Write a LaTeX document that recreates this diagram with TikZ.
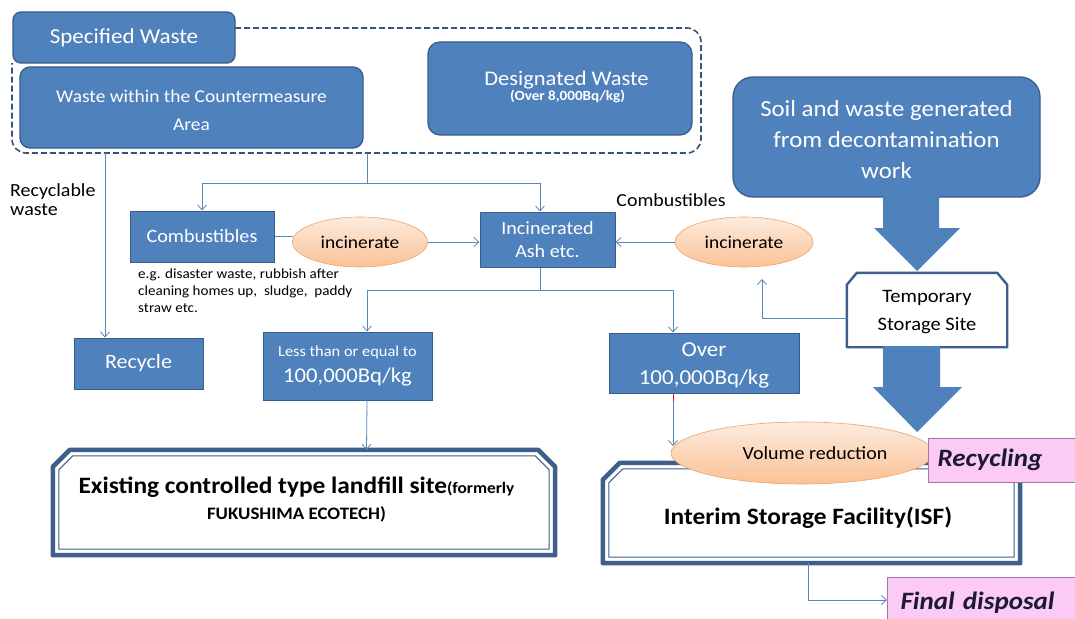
\documentclass[tikz,border=0pt]{standalone}
\usepackage{fontspec}
\setmainfont{Carlito}[FakeStretch=1.08]
\usetikzlibrary{arrows.meta,calc,shapes.geometric}

\definecolor{boxblue}{HTML}{4F81BD}
\definecolor{boxedge}{HTML}{385D8A}
\definecolor{wire}{HTML}{5B86BA}
\definecolor{dashcol}{HTML}{3A5478}
\definecolor{framecol}{HTML}{3E5F8C}
\definecolor{peachtop}{HTML}{FDEBDD}
\definecolor{peachbot}{HTML}{F9C296}
\definecolor{peachedge}{HTML}{EFA467}
\definecolor{pinkfill}{HTML}{FBCBF6}
\definecolor{pinkedge}{HTML}{A874A8}
\definecolor{inktext}{HTML}{1C1A33}

\newcommand\fsz[2]{\fontsize{#1}{#2}\selectfont}

% chamfered double frame around an (invisible) node: #1 node, #2 chamfer
\newcommand\chamframe[2]{%
  \draw[framecol, line width=4.5pt, line join=round, fill=white]
    (#1.south west) -- ($(#1.north west)+(0,#2)$) -- ($(#1.north west)+(#2,0)$)
    -- ($(#1.north east)+(-#2,0)$) -- ($(#1.north east)+(0,#2)$)
    -- (#1.south east) -- cycle;
  \draw[framecol, line width=1pt]
    ($(#1.south west)+(6,-6)$) -- ($(#1.north west)+(6,#2+3)$) -- ($(#1.north west)+(#2+3,6)$)
    -- ($(#1.north east)+(-#2-3,6)$) -- ($(#1.north east)+(-6,#2+3)$)
    -- ($(#1.south east)+(-6,-6)$) -- cycle;}

\begin{document}
\begin{tikzpicture}[x=1pt,y=-1pt,
  bluebox/.style={draw=boxedge, line width=1.3pt, fill=boxblue, text=white,
    align=center, inner sep=0pt},
  oval/.style={ellipse, draw=peachedge, line width=0.6pt, top color=peachtop,
    bottom color=peachbot, inner sep=0pt, text=black},
  pinkbox/.style={draw=pinkedge, line width=1pt, fill=pinkfill, text=inktext,
    inner sep=0pt, font=\fsz{25}{28}\bfseries\itshape},
  plain/.style={inner sep=0pt, text=black},
  wireline/.style={draw=wire, line width=0.8pt},
  arrowed/.style={wireline, -{Straight Barb[length=5pt,width=9pt,line width=0.8pt]}},
  blockarrow/.style={fill=boxblue, draw=none},
  hollow/.style={inner sep=0pt, draw=none}]

\useasboundingbox (0,0) rectangle (1075,618);
\fill[white] (0,0) rectangle (1075,618);

% ---- group of specified waste -------------------------------------------
\draw[dashcol, line width=1.6pt, dash pattern=on 6pt off 3pt, rounded corners=14pt]
  (235,28) -- (701,28) -- (701,153) -- (12,153) -- (12,63);

\node[bluebox, rounded corners=8pt, minimum width=222pt, minimum height=51pt,
  font=\fsz{21.3}{24}] (spec) at (124,37.5) {Specified Waste};
\node[bluebox, rounded corners=10pt, minimum width=343pt, minimum height=81pt] (within)
  at (191.5,107.5) {};
\node[plain, text=white, align=center, font=\fsz{18}{28}] (withinlbl) at (191.5,110)
  {Waste within the Countermeasure\\Area};
\node[bluebox, rounded corners=12pt, minimum width=264pt, minimum height=93pt] (desig)
  at (560,88.5) {};
\node[plain, text=white, anchor=base, font=\fsz{20.8}{24}] (desiglbl) at (566.5,85)
  {Designated Waste};
\node[plain, text=white, anchor=base, font=\fsz{14}{16}\bfseries] (desigsub) at (567.5,100)
  {(Over 8,000Bq/kg)};

\node[bluebox, rounded corners=20pt, minimum width=307pt, minimum height=120pt] (soil)
  at (886.5,137) {};
\node[plain, text=white, align=center, font=\fsz{23}{31}] (soillbl) at (886.5,140)
  {Soil and waste generated\\from decontamination\\work};

\coordinate (groupout) at (367,153);
\coordinate (split) at (367,183);
\coordinate (recout) at (105,153);

% ---- middle row ----------------------------------------------------------
\node[bluebox, line width=1pt, minimum width=144pt, minimum height=51pt,
  font=\fsz{18.7}{20}] (comb) at (202,236.5) {Combustibles};
\node[bluebox, line width=1pt, minimum width=135pt, minimum height=55pt,
  font=\fsz{18.6}{23}] (ash) at (547.5,239.5) {Incinerated\\Ash etc.};
\node[plain, font=\fsz{18.4}{20}] (comblbl) at (671,200) {Combustibles};
\node[plain, align=left, anchor=north west, font=\fsz{18.5}{19}] (reclbl) at (10,183)
  {Recyclable\\waste};
\node[plain, align=left, anchor=north west, font=\fsz{14}{16.7}] (eglbl) at (138,269)
  {e.g. disaster waste, rubbish after\\cleaning homes up,\ \ sludge,\ \ paddy\\straw etc.};

\node[bluebox, line width=1pt, minimum width=129pt, minimum height=51pt,
  font=\fsz{20.4}{22}] (recycle) at (138.5,363.5) {Recycle};
\node[bluebox, line width=1pt, minimum width=169pt, minimum height=68pt,
  font=\fsz{21}{26}] (less) at (347.5,366)
  {{\fsz{15.2}{26}Less than or equal to}\\100,000Bq/kg};
\node[bluebox, line width=1pt, minimum width=190pt, minimum height=60pt] (over)
  at (704,363) {};
\node[plain, text=white, align=center, font=\fsz{21.3}{28}] (overlbl) at (704,365)
  {Over\\100,000Bq/kg};

% temporary storage site (chamfered, white)
\node[hollow, minimum width=160pt, minimum height=74pt] (temp) at (927,310) {};
\draw[framecol, line width=2.4pt, line join=round, fill=white]
  (temp.south west) -- ($(temp.north west)+(0,12)$) -- ($(temp.north west)+(10,0)$)
  -- ($(temp.north east)+(-10,0)$) -- ($(temp.north east)+(0,12)$)
  -- (temp.south east) -- cycle;
\node[plain, align=center, font=\fsz{19}{28}] (templbl) at (927,312) {Temporary\\Storage Site};

% ---- connectors ----------------------------------------------------------
\draw[wireline] (groupout) -- (split);
\draw[arrowed] (split) -| (comb.north);
\draw[arrowed] (split) -| ([xshift=-7.5pt]ash.north);
\draw[arrowed] (recout) -- (recout |- recycle.north);

\coordinate (split2) at (540,290);
\draw[wireline] ([xshift=-7.5pt]ash.south) -- (split2);
\draw[arrowed] (split2) -| ([xshift=19.5pt]less.north);
\draw[arrowed] (split2) -| ([xshift=-31pt]over.north);

% ---- incinerators --------------------------------------------------------
\draw[wireline] (comb.east) -- (293,236.5);
\node[oval, minimum width=135pt, minimum height=50pt, font=\fsz{18}{20}] (inc1)
  at (360,242) {incinerate};
\draw[arrowed] (inc1.east) -- (inc1.east -| ash.west);

\node[oval, minimum width=138pt, minimum height=50pt, font=\fsz{18}{20}] (inc2)
  at (744,242) {incinerate};
\draw[arrowed] (inc2.west) -- (inc2.west -| ash.east);

\coordinate (tempup) at (762,279);
\draw[arrowed] ([yshift=-8pt]temp.west) -| (tempup);

% ---- block arrows --------------------------------------------------------
\fill[blockarrow] (883,196) -- (939,196) -- (939,228) -- (960,228) -- (917,271)
  -- (874,228) -- (883,228) -- cycle;

% ---- lower frames --------------------------------------------------------
\node[hollow, minimum width=502pt, minimum height=105pt] (landfill) at (304,502.5) {};
\chamframe{landfill}{17}
\node[plain, align=center, font=\fsz{23.5}{26}\bfseries] (landlbl) at (296.5,500)
  {Existing controlled type landfill site{\fsz{16}{26}(formerly}\\{\fsz{17.5}{26}FUKUSHIMA ECOTECH)}};

\node[hollow, minimum width=417pt, minimum height=100pt] (isf) at (811.5,513) {};
\chamframe{isf}{17}
\node[plain, font=\fsz{23.5}{26}\bfseries] (isflbl) at (808,518) {Interim Storage Facility(ISF)};

\draw[arrowed] ([xshift=19.5pt]less.south) -- ([xshift=62.5pt]landfill.north);

\node[oval, minimum width=262pt, minimum height=62pt] (vol) at (802,453) {};
\node[plain, font=\fsz{18.5}{20}] (vollbl) at (815,453) {Volume reduction};

\coordinate (volin) at (673,446);
\draw[arrowed] ([xshift=-31pt]over.south) -- (volin);
\draw[red, line width=1pt] (673,394) -- (673,401);

\fill[blockarrow] (883,346) -- (940,346) -- (940,387) -- (962,387) -- (917,432)
  -- (873,387) -- (883,387) -- cycle;

% ---- outcomes ------------------------------------------------------------
\node[pinkbox, minimum width=160pt, minimum height=44pt, anchor=west, align=left,
  text width=148pt] (recycling) at (928,460) {\hspace*{3pt}Recycling};
\node[pinkbox, minimum width=200pt, minimum height=50pt, anchor=north west, align=left,
  text width=190pt] (final) at (887,577) {\hspace*{8pt}Final disposal};

\coordinate (isfout) at (808,563);
\draw[arrowed] (isfout) |- (final.west |- 0,600);

\end{tikzpicture}
\end{document}
